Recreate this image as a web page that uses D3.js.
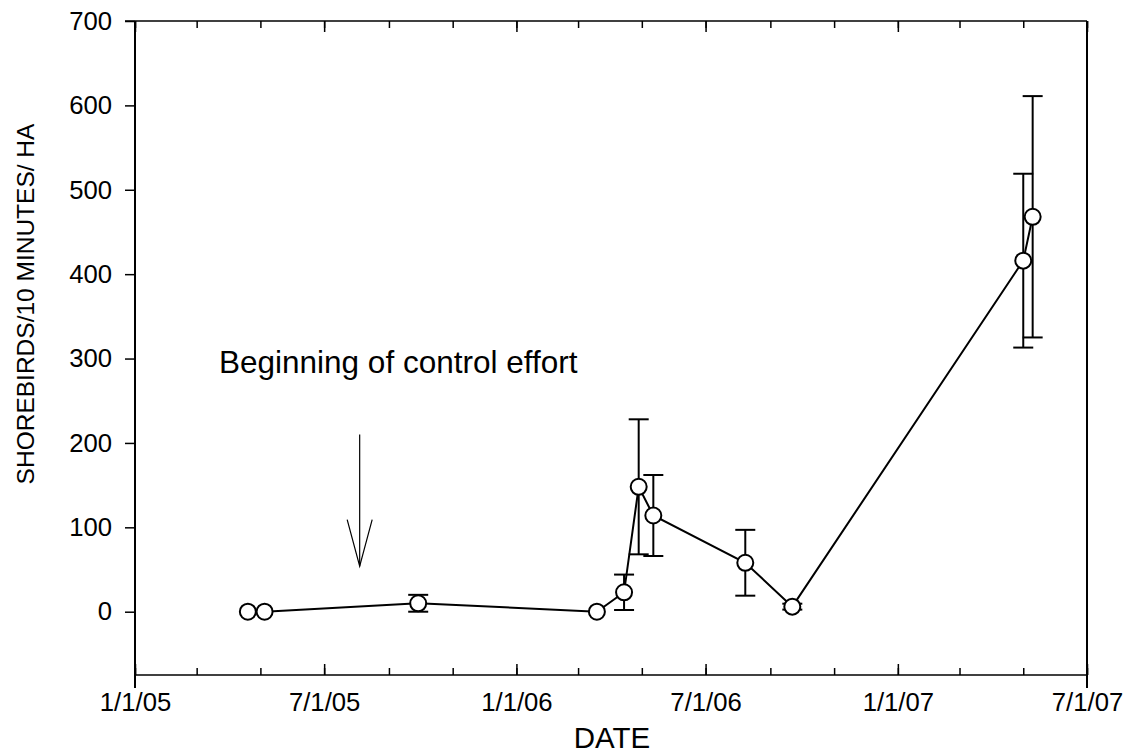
<!DOCTYPE html>
<html>
<head>
<meta charset="utf-8">
<script src="https://cdn.jsdelivr.net/npm/d3@7"></script>
<style>
  html, body { margin: 0; padding: 0; background: #fff; }
  svg { display: block; font-family: "Liberation Sans", Arial, sans-serif; }
</style>
</head>
<body>
<svg id="chart" width="1129" height="755"></svg>
<script>
// ---- data ----
const dates = ["2005-04-19", "2005-05-05", "2005-09-29", "2006-03-19", "2006-04-14",
               "2006-04-28", "2006-05-12", "2006-08-08", "2006-09-22", "2007-05-01", "2007-05-10"];
const values = [0, 0, 10, 0, 23, 148, 114, 58, 6, 416, 468];
const errors = [0, 0, 10, 0, 21, 80, 48, 39, 3.5, 103, 143];
const yTickValues = [0, 100, 200, 300, 400, 500, 600, 700];
const xDomain = ["2005-01-01", "2007-07-01"];
const annotationText = "Beginning of control effort";
const arrowDate = "2005-08-04";
const arrowFrom = 210, arrowTo = 54;
const xTitle = "DATE";
const yTitle = "SHOREBIRDS/10 MINUTES/ HA";

// ---- layout ----
const W = 1129, H = 755;
const L = 135, R = 1087, T = 21, B = 675;
const svg = d3.select("#chart");
const parse = d3.utcParse("%Y-%m-%d");

const x = d3.scaleUtc().domain(xDomain.map(parse)).range([L, R]);
const y = d3.scaleLinear().domain([-75, 700]).range([B, T]);

const pts = dates.map((d, i) => ({ date: parse(d), v: values[i], e: errors[i] }));

const tickFont = 25.7;
const fmt = d3.utcFormat("%-m/%-d/%y");
const majorTicks = x.ticks(d3.utcMonth.every(6));
const minorTicks = x.ticks(d3.utcMonth.every(2));

// bottom axis minor ticks (inward)
svg.append("g").attr("transform", `translate(0,${B})`)
  .call(d3.axisBottom(x).tickValues(minorTicks).tickSize(-7).tickFormat(""))
  .call(g => g.select(".domain").remove())
  .call(g => g.selectAll("line").attr("stroke", "#000").attr("stroke-width", 1.5));
// bottom axis major ticks + labels
svg.append("g").attr("transform", `translate(0,${B})`)
  .call(d3.axisBottom(x).tickValues(majorTicks).tickSize(-11).tickPadding(18).tickFormat(fmt))
  .call(g => g.select(".domain").remove())
  .call(g => g.selectAll("line").attr("stroke", "#000").attr("stroke-width", 1.5))
  .call(g => g.selectAll("text").attr("fill", "#000")
      .style("font-size", tickFont + "px").style("font-family", "Liberation Sans, Arial, sans-serif"));

// top axis ticks (inward)
svg.append("g").attr("transform", `translate(0,${T})`)
  .call(d3.axisTop(x).tickValues(minorTicks).tickSize(-7).tickFormat(""))
  .call(g => g.select(".domain").remove())
  .call(g => g.selectAll("line").attr("stroke", "#000").attr("stroke-width", 1.5));
svg.append("g").attr("transform", `translate(0,${T})`)
  .call(d3.axisTop(x).tickValues(majorTicks).tickSize(-11).tickFormat(""))
  .call(g => g.select(".domain").remove())
  .call(g => g.selectAll("line").attr("stroke", "#000").attr("stroke-width", 1.5));

// left axis
svg.append("g").attr("transform", `translate(${L},0)`)
  .call(d3.axisLeft(y).tickValues(yTickValues).tickSize(10).tickPadding(13))
  .call(g => g.select(".domain").remove())
  .call(g => g.selectAll("line").attr("stroke", "#000").attr("stroke-width", 1.5))
  .call(g => g.selectAll("text").attr("fill", "#000")
      .style("font-size", tickFont + "px").style("font-family", "Liberation Sans, Arial, sans-serif"));

// frame
const frame = svg.append("g").attr("stroke", "#000").attr("fill", "none");
frame.append("line").attr("x1", L).attr("x2", L).attr("y1", T).attr("y2", B + 13).attr("stroke-width", 2);
frame.append("line").attr("x1", R).attr("x2", R).attr("y1", T).attr("y2", B + 13).attr("stroke-width", 2);
frame.append("line").attr("x1", L - 10).attr("x2", R).attr("y1", T).attr("y2", T).attr("stroke-width", 1.5);
frame.append("line").attr("x1", L).attr("x2", R).attr("y1", B).attr("y2", B).attr("stroke-width", 1.5);

// error bars
const cap = 10;
const eb = svg.append("g").attr("stroke", "#000").attr("stroke-width", 2).attr("fill", "none");
pts.filter(p => p.e > 0).forEach(p => {
  const cx = x(p.date);
  eb.append("line").attr("x1", cx).attr("x2", cx).attr("y1", y(p.v + p.e)).attr("y2", y(p.v - p.e));
  eb.append("line").attr("x1", cx - cap).attr("x2", cx + cap).attr("y1", y(p.v + p.e)).attr("y2", y(p.v + p.e));
  eb.append("line").attr("x1", cx - cap).attr("x2", cx + cap).attr("y1", y(p.v - p.e)).attr("y2", y(p.v - p.e));
});

// line
svg.append("path").datum(pts)
  .attr("fill", "none").attr("stroke", "#000").attr("stroke-width", 2)
  .attr("d", d3.line().x(p => x(p.date)).y(p => y(p.v)));

// markers
svg.append("g").selectAll("circle").data(pts).join("circle")
  .attr("cx", p => x(p.date)).attr("cy", p => y(p.v)).attr("r", 8)
  .attr("fill", "#fff").attr("stroke", "#000").attr("stroke-width", 2);

// arrow annotation
const ax = x(parse(arrowDate));
const ay1 = y(arrowFrom), ay2 = y(arrowTo);
const arrow = svg.append("g").attr("stroke", "#000").attr("stroke-width", 1.2).attr("fill", "none");
arrow.append("line").attr("x1", ax).attr("x2", ax).attr("y1", ay1).attr("y2", ay2);
arrow.append("path").attr("d", `M${ax - 12.5},${ay2 - 46.5} L${ax},${ay2} L${ax + 12.5},${ay2 - 46.5}`);

svg.append("text").attr("x", 219).attr("y", 373)
  .style("font-size", "31.5px").attr("fill", "#000").text(annotationText);

// axis titles
svg.append("text").attr("x", 612).attr("y", 748).attr("text-anchor", "middle")
  .style("font-size", "29.5px").attr("fill", "#000").text(xTitle);
svg.append("text").attr("transform", `translate(34,304) rotate(-90)`).attr("text-anchor", "middle")
  .style("font-size", "24.5px").attr("fill", "#000").text(yTitle);
</script>
</body>
</html>
